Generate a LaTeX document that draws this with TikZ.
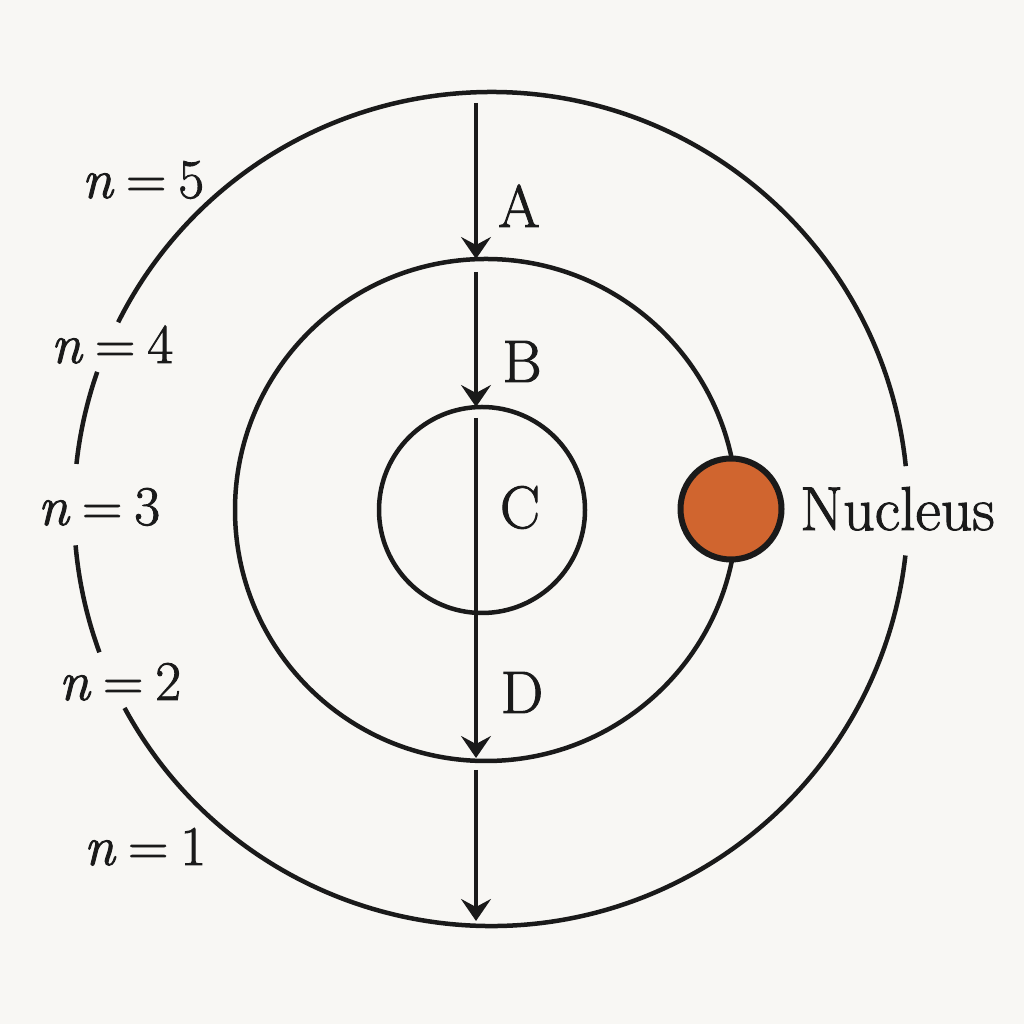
\documentclass[tikz,border=0pt]{standalone}
\usepackage{fontspec}
\setmainfont{Latin Modern Roman}[FakeBold=1.6]
\usetikzlibrary{arrows.meta}
\definecolor{bg}{HTML}{F8F7F4}
\definecolor{ink}{HTML}{1A1A1A}
\definecolor{nuc}{HTML}{D0652F}
\newcommand{\lvltext}[1]{\textit{n}\kern12pt=\kern12pt#1}
\begin{document}
\begin{tikzpicture}[x=1pt,y=1pt,
  orbit/.style={draw=ink, line width=4.5pt},
  transit/.style={draw=ink, line width=4pt, -{Stealth[length=22pt,width=30pt,inset=8pt]}},
  lvl/.style={text=ink, font=\fontsize{56}{60}\selectfont, inner sep=0pt, anchor=base},
  translabel/.style={text=ink, font=\fontsize{60}{64}\selectfont, inner sep=0pt, anchor=base}]
\fill[bg] (0,0) rectangle (1024,1024);
\useasboundingbox (0,0) rectangle (1024,1024);
% outer orbit (with gaps for labels)
\draw[orbit] ([shift={(5.9:417)}]491,515) arc[start angle=5.9, end angle=153.4, radius=417];
\draw[orbit] ([shift={(160.8:417)}]491,515) arc[start angle=160.8, end angle=173.8, radius=417];
\draw[orbit] ([shift={(185.0:417)}]491,515) arc[start angle=185.0, end angle=200.1, radius=417];
\draw[orbit] ([shift={(208.5:417)}]491,515) arc[start angle=208.5, end angle=353.6, radius=417];
% middle and inner orbits
\draw[orbit] (486,514) circle[radius=251];
\draw[orbit] (482,514) circle[radius=103];
% nucleus
\node[circle, draw=ink, line width=6pt, fill=nuc, minimum size=101pt, inner sep=0pt] (nucleus) at (731,515) {};
\node[translabel, anchor=base west, font=\fontsize{62}{66}\selectfont] (nuclabel) at (800,494) {Nucleus};
% transitions
\coordinate (a1) at (476,921); \coordinate (a2) at (476,765);
\coordinate (b1) at (476,752); \coordinate (b2) at (476,617);
\coordinate (c1) at (476,606); \coordinate (c2) at (476,266);
\coordinate (d1) at (476,254); \coordinate (d2) at (476,103);
\draw[transit] (a1) -- (a2);
\draw[transit] (b1) -- (b2);
\draw[transit] (c1) -- (c2);
\draw[transit] (d1) -- (d2);
\node[translabel] (la) at (519,797) {A};
\node[translabel] (lb) at (522,642) {B};
\node[translabel] (lc) at (520,496) {C};
\node[translabel] (ld) at (522,311) {D};
% level labels
\node[lvl] (n5) at (143,826) {\lvltext{5}};
\node[lvl] (n4) at (112,661) {\lvltext{4}};
\node[lvl] (n3) at (99,499) {\lvltext{3}};
\node[lvl] (n2) at (120,324) {\lvltext{2}};
\node[lvl] (n1) at (145,159) {\lvltext{1}};
\end{tikzpicture}
\end{document}
